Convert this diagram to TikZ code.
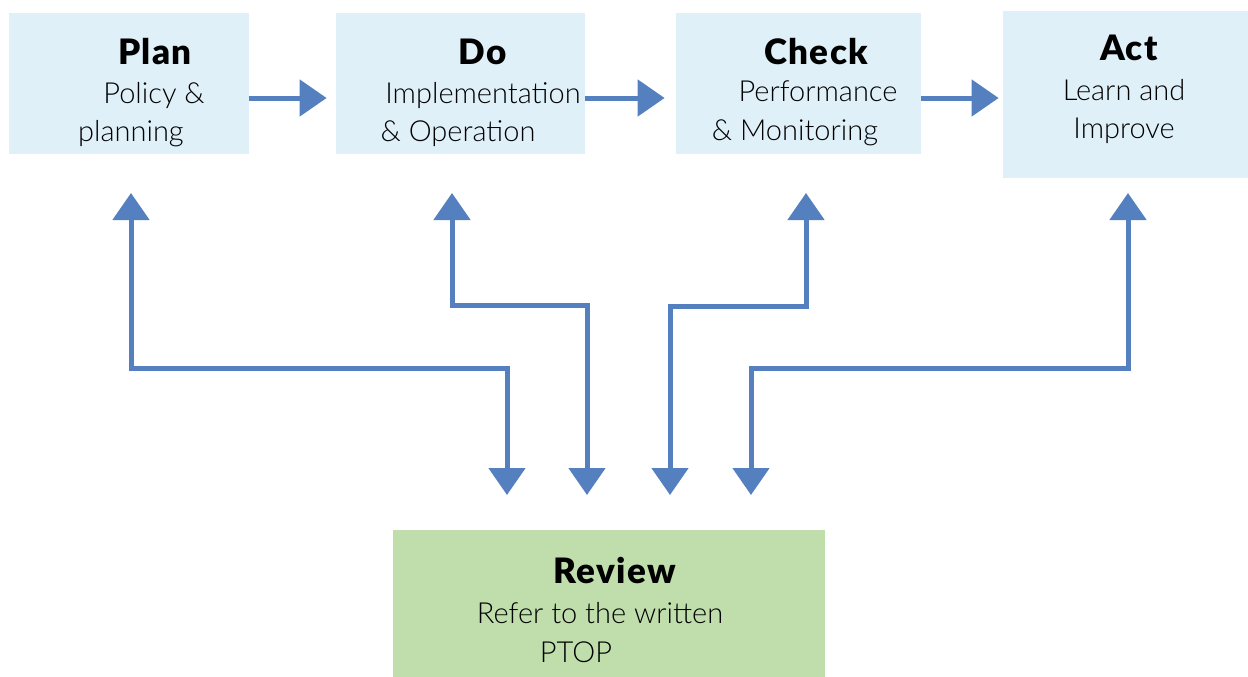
\documentclass[tikz,border=0pt]{standalone}
\usepackage{fontspec}
\setmainfont{Lato}[UprightFont=* Light, BoldFont=* Black]
\usetikzlibrary{arrows.meta}

\definecolor{stageblue}{RGB}{224,240,248}
\definecolor{reviewgreen}{RGB}{192,222,172}
\definecolor{flowblue}{RGB}{84,128,192}

\tikzset{every picture/.style={line width=0.75pt}}
\tikzset{
  stage/.style={fill=stageblue, draw=none, inner sep=0pt},
  review/.style={fill=reviewgreen, draw=none, inner sep=0pt},
  title/.style={anchor=base, font=\fontsize{35}{35}\selectfont\bfseries\addfontfeature{LetterSpace=4}},
  body/.style={anchor=base, font=\fontsize{29}{29}\selectfont},
  flow/.style={draw=flowblue, line width=5pt, -{Triangle[length=27pt,width=36pt]}},
  loop/.style={draw=flowblue, line width=5pt, {Triangle[length=27pt,width=36pt]}-{Triangle[length=27pt,width=36pt]}}
}

\begin{document}
\begin{tikzpicture}[x=1pt,y=1pt,yscale=-1,xscale=1]
\useasboundingbox (0,0) rectangle (1248,677);

%Boxes
\node[stage, minimum width=240pt, minimum height=141pt] (plan) at (129,83.5) {};
\node[stage, minimum width=249pt, minimum height=141pt] (do) at (460.5,83.5) {};
\node[stage, minimum width=245pt, minimum height=141pt] (check) at (798.5,83.5) {};
\node[stage, minimum width=245pt, minimum height=167pt] (act) at (1125.5,94.5) {};
\node[review, minimum width=432pt, minimum height=147pt] (rev) at (609,603.5) {};

%Texts
\node[title] (planT) at (155,65) {Plan};
\node[body] (planA) at (154,103) {Policy \&};
\node[body] (planB) at (131,141) {planning};
\node[title] (doT) at (483,65) {Do};
\node[body] (doA) at (483,103) {Implementation};
\node[body] (doB) at (458,141) {\& Operation};
\node[title] (checkT) at (816,65) {Check};
\node[body] (checkA) at (818,102) {Performance};
\node[body] (checkB) at (795,140) {\& Monitoring};
\node[title] (actT) at (1129,60) {Act};
\node[body] (actA) at (1124,100) {Learn and};
\node[body] (actB) at (1124,138) {Improve};
\node[title] (revT) at (615,583) {Review};
\node[body] (revA) at (600,623) {Refer to the written};
\node[body] (revB) at (576,662) {PTOP};

%Forward arrows
\draw[flow, shorten >=9pt] (plan.east |- 0,98) -- (do.west |- 0,98);
\draw[flow, shorten >=11pt] (do.east |- 0,98) -- (check.west |- 0,98);
\draw[flow, shorten >=4pt] (check.east |- 0,98) -- (act.west |- 0,98);

%Review links
\coordinate (planU) at (131,193);
\coordinate (planD) at (507,495);
\coordinate (doU) at (452,193);
\coordinate (doD) at (587,495);
\coordinate (checkU) at (806,193);
\coordinate (checkD) at (670,495);
\coordinate (actU) at (1128,193);
\coordinate (actD) at (751,495);
\draw[loop] (planU) -- (131,368) -| (planD);
\draw[loop] (doU) -- (452,305) -| (doD);
\draw[loop] (checkU) -- (806,306) -| (checkD);
\draw[loop] (actU) -- (1128,368) -| (actD);

\end{tikzpicture}
\end{document}
